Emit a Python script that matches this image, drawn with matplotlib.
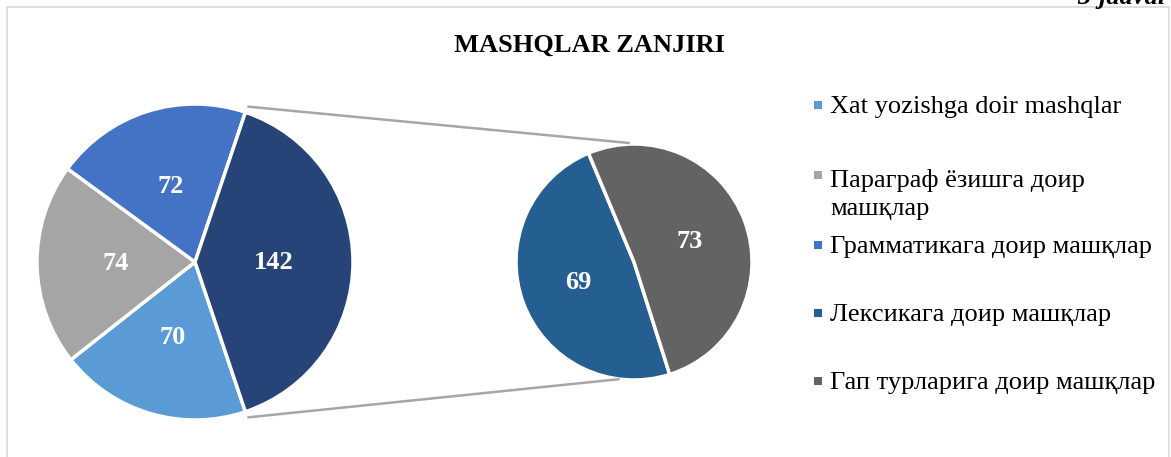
import numpy as np
import matplotlib.pyplot as plt
from matplotlib.patches import Rectangle

plt.rcParams['font.family'] = ['Liberation Serif', 'DejaVu Serif']

# data
labels = ['Xat yozishga doir mashqlar',
          'Параграф ёзишга доир\nмашқлар',
          'Грамматикага доир машқлар',
          'Лексикага доир машқлар',
          'Гап турларига доир машқлар']
values = [70, 74, 72, 69, 73]
colors = ['#5B9BD5', '#A5A5A5', '#4472C4', '#255E91', '#636363']
n_main = 3  # first three in the primary pie, rest go to the secondary pie

main_vals = values[:n_main] + [sum(values[n_main:])]
main_cols = colors[:n_main] + ['#264478']
sec_vals = values[n_main:]
sec_cols = colors[n_main:]

W, H = 1171, 457
fig = plt.figure(figsize=(W / 100, H / 100), dpi=100)
ax = fig.add_axes([0, 0, 1, 1])

c1, r1 = (195, 195), 158
c2, r2 = (634, 195), 118

other_angle = sum(values[n_main:]) / sum(main_vals) * 360
wprops = dict(edgecolor='white', linewidth=2.5)
tprops = dict(color='white', fontsize=19, fontweight='bold')

w1, t1 = ax.pie(main_vals, colors=main_cols, startangle=-other_angle / 2,
                counterclock=False, center=c1, radius=r1,
                labels=[str(v) for v in main_vals], labeldistance=0.5,
                wedgeprops=wprops, textprops=tprops)
for t in t1:
    t.set_ha('center')
    t.set_va('center')

w2, t2 = ax.pie(sec_vals, colors=sec_cols, startangle=112.7,
                counterclock=True, center=c2, radius=r2,
                labels=[str(v) for v in sec_vals], labeldistance=0.5,
                wedgeprops=wprops, textprops=tprops)
for t in t2:
    t.set_ha('center')
    t.set_va('center')

# connector lines between the "other" slice and the secondary pie
a = np.deg2rad(other_angle / 2)
p_top = (c1[0] + (r1 + 6) * np.cos(a), c1[1] + (r1 + 6) * np.sin(a))
p_bot = (c1[0] + (r1 + 6) * np.cos(a), c1[1] - (r1 + 6) * np.sin(a))
q_top = (c2[0] + r2 * np.cos(np.deg2rad(92)), c2[1] + (r2 + 1) * np.sin(np.deg2rad(92)))
q_bot = (c2[0] + r2 * np.cos(np.deg2rad(263)), c2[1] + r2 * np.sin(np.deg2rad(263)))
ax.plot([p_top[0], q_top[0]], [p_top[1], q_top[1]], color='#A6A6A6', lw=1.8,
        solid_capstyle='butt')
ax.plot([p_bot[0], q_bot[0]], [p_bot[1], q_bot[1]], color='#A6A6A6', lw=1.8,
        solid_capstyle='butt')

ax.set_xlim(0, W)
ax.set_ylim(0, H)
ax.set_aspect('auto')
ax.axis('off')

# chart frame
fig.patches.append(Rectangle((7 / W, -0.1), 1162 / W, 1.1 - 7.5 / H,
                             transform=fig.transFigure, fill=False,
                             edgecolor='#D9D9D9', lw=1.2))

fig.text(1165 / W, 1 - 4 / H, '3-jadval', ha='right', va='baseline',
         fontsize=19, fontweight='bold', style='italic')

fig.text(589 / W, 1 - 45 / H, 'MASHQLAR ZANJIRI', ha='center', va='center',
         fontsize=19, fontweight='bold')

# legend (baseline of the first line of every entry)
base_y = [113, 183, 253, 321, 389]
line_gap = 32
for lab, col, by in zip(labels, colors, base_y):
    fig.patches.append(Rectangle((814 / W, 1 - (by - 4) / H), 8 / W, 8 / H,
                                 transform=fig.transFigure, facecolor=col,
                                 edgecolor='none'))
    extra = lab.count('\n') * line_gap
    fig.text(830 / W, 1 - (by + extra) / H, lab, ha='left', va='baseline',
             fontsize=19, linespacing=1.38)

fig.savefig('out.png', dpi=100)
